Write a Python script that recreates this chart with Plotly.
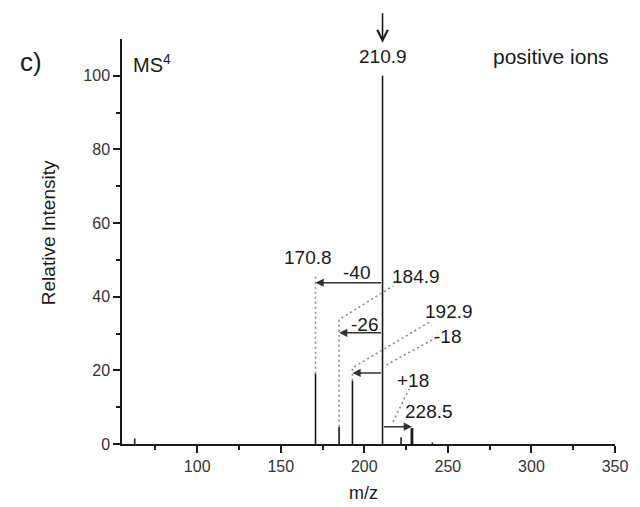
import plotly.graph_objects as go

# Fragment ions (m/z) and their relative intensities
mz = [62.6, 170.8, 184.9, 192.9, 210.9, 222.0, 228.5, 240.7]
intensity = [1.5, 19.1, 4.7, 17.2, 100.0, 1.8, 4.3, 0.4]

# Neutral-loss arrows: label, start m/z, end m/z, height
loss_labels = ["-40", "-26", "-18", "+18"]
loss_from = [210.9, 210.9, 210.9, 210.9]
loss_to = [170.8, 184.9, 192.9, 228.5]
loss_level = [43.8, 30.2, 19.3, 4.7]

# Peak labels
peak_labels = ["170.8", "184.9", "192.9", "228.5"]

x_ticks = [100, 150, 200, 250, 300, 350]
y_ticks = [0, 20, 40, 60, 80, 100]

FONT = "Arial, Liberation Sans, sans-serif"
INK = "#1a1a1a"

fig = go.Figure()

# stick spectrum
sx, sy = [], []
for m, i in zip(mz, intensity):
    if m == 228.5:
        continue
    sx += [m, m, None]
    sy += [0, i, None]
fig.add_trace(go.Scatter(x=sx, y=sy, mode="lines",
                         line=dict(color=INK, width=1.6),
                         hoverinfo="skip", showlegend=False))
k = mz.index(228.5)
fig.add_trace(go.Scatter(x=[mz[k], mz[k]], y=[0, intensity[k]], mode="lines",
                         line=dict(color=INK, width=2.8),
                         hoverinfo="skip", showlegend=False))

# dotted leader lines
DOT = dict(color="#8a8a8a", width=1.6, dash="2px,3px")
leaders = [
    ([170.8, 170.8], [intensity[1], 46.3]),
    ([184.9, 184.9, 217.2], [intensity[2], 33.8, 42.9]),
    ([192.9, 192.9, 239.7], [intensity[3], 20.7, 33.3]),
    ([213.2, 242.6], [21.5, 28.8]),
    ([217.2, 226.9], [6.0, 15.0]),
]
for lx, ly in leaders:
    fig.add_trace(go.Scatter(x=lx, y=ly, mode="lines", line=DOT,
                             hoverinfo="skip", showlegend=False))

ann = []
# loss arrows
for lab, a, b, h in zip(loss_labels, loss_from, loss_to, loss_level):
    ann.append(dict(x=b, y=h, ax=a, ay=h, xref="x", yref="y", axref="x", ayref="y",
                    text="", showarrow=True, arrowhead=2, arrowsize=1.1,
                    arrowwidth=1.5, arrowcolor="#333333", standoff=0))

label_pos = {
    "-40": (195.2, 46.5), "-26": (199.9, 32.4), "-18": (249.5, 29.1), "+18": (228.9, 17.2),
    "170.8": (166.2, 50.6), "184.9": (230.9, 45.6), "192.9": (250.5, 36.0), "228.5": (238.7, 8.8),
}
for lab in loss_labels + peak_labels:
    x, y = label_pos[lab]
    ann.append(dict(x=x, y=y, xref="x", yref="y", text=lab, showarrow=False,
                    xanchor="center", yanchor="middle",
                    font=dict(family=FONT, size=19, color=INK)))

# precursor marker
ann.append(dict(x=210.9, y=109.0, ax=0, ay=-31, xref="x", yref="y", text="",
                showarrow=True, arrowhead=5, arrowsize=1.3, arrowwidth=1.6,
                arrowcolor=INK, standoff=0))
ann.append(dict(x=211.3, y=105.2, xref="x", yref="y", text="210.9", showarrow=False,
                xanchor="center", yanchor="middle",
                font=dict(family=FONT, size=19, color=INK)))
ann.append(dict(x=312, y=105.2, xref="x", yref="y", text="positive ions", showarrow=False,
                xanchor="center", yanchor="middle",
                font=dict(family=FONT, size=21, color=INK)))
ann.append(dict(x=60.3, y=103.3, xref="x", yref="y", text="MS<sup>4</sup>", showarrow=False,
                xanchor="left", yanchor="middle",
                font=dict(family=FONT, size=20, color=INK)))
ann.append(dict(x=-0.184, y=0.943, xref="paper", yref="paper", text="c)", showarrow=False,
                xanchor="center", yanchor="middle",
                font=dict(family=FONT, size=26, color=INK)))
# axis titles
ann.append(dict(x=-0.1477, y=0.521, xref="paper", yref="paper", text="Relative Intensity",
                textangle=-90, showarrow=False, xanchor="center", yanchor="middle",
                font=dict(family=FONT, size=19, color=INK)))
ann.append(dict(x=0.49, y=-0.121, xref="paper", yref="paper", text="m/z",
                showarrow=False, xanchor="center", yanchor="middle",
                font=dict(family=FONT, size=18, color=INK)))

axis_common = dict(showline=True, linecolor=INK, linewidth=1.5, ticks="outside",
                   ticklen=7, tickwidth=1.5, tickcolor=INK, showgrid=False, zeroline=False,
                   tickfont=dict(family=FONT, size=16, color="#333333"), mirror=False)

fig.update_layout(
    width=640, height=507,
    margin=dict(l=122, r=17, t=39, b=63),
    paper_bgcolor="white", plot_bgcolor="white",
    annotations=ann,
    xaxis=dict(range=[55, 350.01], tickvals=x_ticks,
               minor=dict(ticks="outside", ticklen=4, tickwidth=1.5, tickcolor=INK,
                          tickvals=[75, 125, 175, 225, 275, 325]),
               **axis_common),
    yaxis=dict(range=[0, 110], tickvals=y_ticks,
               minor=dict(ticks="outside", ticklen=4, tickwidth=1.5, tickcolor=INK,
                          tickvals=[10, 30, 50, 70, 90]),
               **axis_common),
)

fig.write_html("out.html")
